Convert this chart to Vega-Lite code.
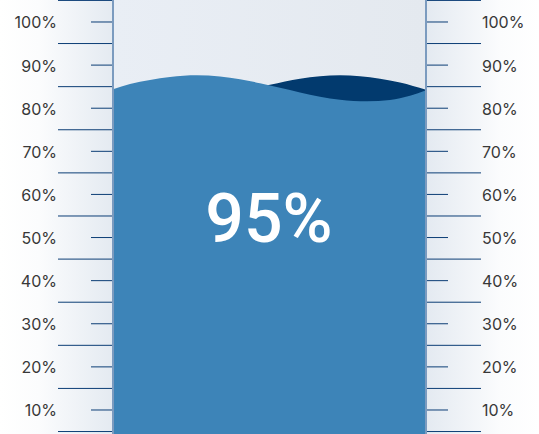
{
  "$schema": "https://vega.github.io/schema/vega-lite/v6.json",
  "width": 539,
  "height": 434,
  "padding": 0,
  "autosize": {"type": "none"},
  "background": "white",
  "view": {"stroke": null},
  "config": {"font": "Inter"},
  "datasets": {
    "major": [{"v": 5}, {"v": 15}, {"v": 25}, {"v": 35}, {"v": 45}, {"v": 55}, {"v": 65}, {"v": 75}, {"v": 85}, {"v": 95}, {"v": 105}],
    "minor": [{"v": 10, "label": "10%"}, {"v": 20, "label": "20%"}, {"v": 30, "label": "30%"}, {"v": 40, "label": "40%"}, {"v": 50, "label": "50%"}, {"v": 60, "label": "60%"}, {"v": 70, "label": "70%"}, {"v": 80, "label": "80%"}, {"v": 90, "label": "90%"}, {"v": 100, "label": "100%"}],
    "front": [
      {"p": 113, "level": 84.39}, {"p": 130, "level": 85.62}, {"p": 150, "level": 86.57}, {"p": 170, "level": 87.26},
      {"p": 197, "level": 87.63}, {"p": 220, "level": 87.35}, {"p": 240, "level": 86.73}, {"p": 260, "level": 85.8},
      {"p": 280, "level": 84.74}, {"p": 300, "level": 83.65}, {"p": 320, "level": 82.68}, {"p": 340, "level": 81.98},
      {"p": 367, "level": 81.61}, {"p": 390, "level": 81.89}, {"p": 410, "level": 82.88}, {"p": 426, "level": 84.16}
    ],
    "back": [
      {"p": 113, "level": 83.09}, {"p": 150, "level": 81.82}, {"p": 197, "level": 81.98}, {"p": 240, "level": 83.79},
      {"p": 270, "level": 85.43}, {"p": 300, "level": 86.84}, {"p": 320, "level": 87.42}, {"p": 340, "level": 87.63},
      {"p": 360, "level": 87.42}, {"p": 380, "level": 86.84}, {"p": 400, "level": 85.96}, {"p": 426, "level": 84.27}
    ],
    "gauge": [{"value": "95%"}]
  },
  "encoding": {
    "y": {"type": "quantitative", "scale": {"domain": [4.43, 105.1], "nice": false, "zero": false}, "axis": null}
  },
  "layer": [
    {
      "data": {"name": "gauge"},
      "mark": {"type": "rect", "fill": {"gradient": "linear", "x1": 0, "y1": 0, "x2": 1, "y2": 0, "stops": [{"offset": 0, "color": "#ffffff"}, {"offset": 0.35, "color": "#fbfcfd"}, {"offset": 1, "color": "#e4eaf1"}]}},
      "encoding": {
        "x": {"datum": 0, "type": "quantitative", "scale": {"domain": [0, 539], "nice": false, "zero": false}, "axis": null},
        "x2": {"datum": 113},
        "y": {"datum": 4.43},
        "y2": {"datum": 105.1}
      }
    },
    {
      "data": {"name": "gauge"},
      "mark": {"type": "rect", "fill": {"gradient": "linear", "x1": 0, "y1": 0, "x2": 1, "y2": 0, "stops": [{"offset": 0, "color": "#e4eaf1"}, {"offset": 0.65, "color": "#fbfcfd"}, {"offset": 1, "color": "#ffffff"}]}},
      "encoding": {
        "x": {"datum": 427, "type": "quantitative"},
        "x2": {"datum": 539},
        "y": {"datum": 4.43},
        "y2": {"datum": 105.1}
      }
    },
    {
      "data": {"name": "gauge"},
      "mark": {"type": "rect", "fill": {"gradient": "linear", "x1": 0, "y1": 0, "x2": 1, "y2": 0, "stops": [{"offset": 0, "color": "#e9eef5"}, {"offset": 1, "color": "#e4e9ef"}]}},
      "encoding": {
        "x": {"datum": 113, "type": "quantitative"},
        "x2": {"datum": 426},
        "y": {"datum": 4.43},
        "y2": {"datum": 105.1}
      }
    },
    {
      "data": {"name": "back"},
      "mark": {"type": "area", "color": "#023a6e", "interpolate": "monotone"},
      "encoding": {
        "x": {"field": "p", "type": "quantitative"},
        "y": {"field": "level", "type": "quantitative"},
        "y2": {"datum": 4.43}
      }
    },
    {
      "data": {"name": "front"},
      "mark": {"type": "area", "color": "#3d84b8", "interpolate": "monotone"},
      "encoding": {
        "x": {"field": "p", "type": "quantitative"},
        "y": {"field": "level", "type": "quantitative"},
        "y2": {"datum": 4.43}
      }
    },
    {
      "data": {"name": "major"},
      "mark": {"type": "rule", "color": "#0b3d75", "strokeWidth": 1},
      "encoding": {"y": {"field": "v", "type": "quantitative"}, "x": {"datum": 58, "type": "quantitative"}, "x2": {"datum": 113}}
    },
    {
      "data": {"name": "major"},
      "mark": {"type": "rule", "color": "#0b3d75", "strokeWidth": 1},
      "encoding": {"y": {"field": "v", "type": "quantitative"}, "x": {"datum": 427, "type": "quantitative"}, "x2": {"datum": 481}}
    },
    {
      "data": {"name": "minor"},
      "mark": {"type": "rule", "color": "#0b3d75", "strokeWidth": 1},
      "encoding": {"y": {"field": "v", "type": "quantitative"}, "x": {"datum": 91, "type": "quantitative"}, "x2": {"datum": 113}}
    },
    {
      "data": {"name": "minor"},
      "mark": {"type": "rule", "color": "#0b3d75", "strokeWidth": 1},
      "encoding": {"y": {"field": "v", "type": "quantitative"}, "x": {"datum": 427, "type": "quantitative"}, "x2": {"datum": 448}}
    },
    {
      "data": {"name": "gauge"},
      "mark": {"type": "rule", "color": "#7b9bbf", "strokeWidth": 2},
      "encoding": {"x": {"datum": 113, "type": "quantitative"}, "y": {"datum": 4.43}, "y2": {"datum": 105.1}}
    },
    {
      "data": {"name": "gauge"},
      "mark": {"type": "rule", "color": "#7b9bbf", "strokeWidth": 2},
      "encoding": {"x": {"datum": 426, "type": "quantitative"}, "y": {"datum": 4.43}, "y2": {"datum": 105.1}}
    },
    {
      "data": {"name": "minor"},
      "mark": {"type": "text", "align": "right", "baseline": "middle", "dy": 1.5, "fontSize": 16, "color": "#383838"},
      "encoding": {"y": {"field": "v", "type": "quantitative"}, "x": {"datum": 57, "type": "quantitative"}, "text": {"field": "label"}}
    },
    {
      "data": {"name": "minor"},
      "mark": {"type": "text", "align": "left", "baseline": "middle", "dy": 1.5, "fontSize": 16, "color": "#383838"},
      "encoding": {"y": {"field": "v", "type": "quantitative"}, "x": {"datum": 482, "type": "quantitative"}, "text": {"field": "label"}}
    },
    {
      "data": {"name": "gauge"},
      "mark": {"type": "text", "align": "center", "baseline": "alphabetic", "font": "Roboto", "fontSize": 68, "fontWeight": 500, "color": "#ffffff"},
      "encoding": {"x": {"datum": 269, "type": "quantitative"}, "y": {"datum": 48.9}, "text": {"field": "value"}}
    }
  ]
}
